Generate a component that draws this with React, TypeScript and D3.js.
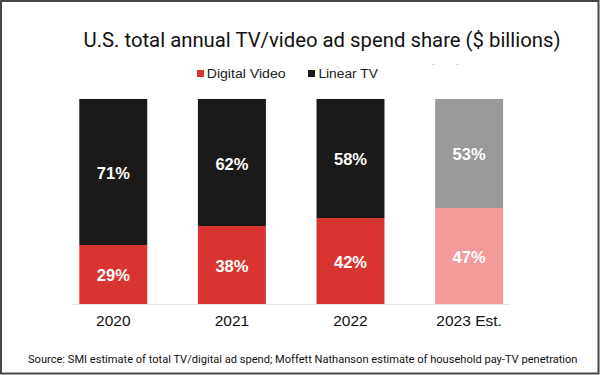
import React from "react";
import * as d3 from "d3";

const years = ["2020", "2021", "2022", "2023 Est."];
const digitalVideo = [29, 38, 42, 47];
const linearTV = [71, 62, 58, 53];
const seriesNames = ["Digital Video", "Linear TV"];
const title = "U.S. total annual TV/video ad spend share ($ billions)";
const source =
  "Source: SMI estimate of total TV/digital ad spend; Moffett Nathanson estimate of household pay-TV penetration";

const W = 600;
const H = 375;

export default function App() {
  const x = d3.scaleBand<string>().domain(years).range([20, 562.4]).paddingInner(0.427).paddingOuter(0.5);
  const y = d3.scaleLinear().domain([0, 100]).range([304, 99]);

  const digitalColor = (i: number) => (i === 3 ? "#f39b9b" : "#d93530");
  const linearColor = (i: number) => (i === 3 ? "#999999" : "#1c1a18");

  const sans = "'Liberation Sans', Arial, sans-serif";
  const bw = x.bandwidth();
  const first = x(years[0])!;
  const last = x(years[years.length - 1])! + bw;

  return (
    <svg width={W} height={H} style={{ position: "absolute", left: 0, top: 0, background: "#fff" }}>
      <rect x={0} y={0} width={W} height={H} fill="#fff" />
      <text
        x={83.5}
        y={46.7}
        fontFamily="Roboto, sans-serif"
        fontSize={20.5}
        fill="#111"
        textLength={477}
        lengthAdjust="spacingAndGlyphs"
      >
        {title}
      </text>
      {/* faint artifacts */}
      <circle cx={338} cy={67} r={0.8} fill="#bbb" />
      <circle cx={433.5} cy={64.5} r={0.8} fill="#bbb" />
      <circle cx={457.5} cy={64.5} r={0.8} fill="#bbb" />
      {/* legend */}
      <rect x={197} y={70} width={7} height={7} fill="#d93530" />
      <text x={206.7} y={77.5} fontFamily={sans} fontSize={13} fill="#222" textLength={79} lengthAdjust="spacingAndGlyphs">
        {seriesNames[0]}
      </text>
      <rect x={308} y={70} width={7} height={7} fill="#1c1a18" />
      <text x={318.4} y={77.5} fontFamily={sans} fontSize={13} fill="#222" textLength={59.5} lengthAdjust="spacingAndGlyphs">
        {seriesNames[1]}
      </text>
      {/* baseline */}
      <line x1={first - 6.6} x2={last + 6.6} y1={y(0) + 0.5} y2={y(0) + 0.5} stroke="#e3e3e3" strokeWidth={1} />
      {years.map((yr, i) => {
        const bx = x(yr)!;
        const d = digitalVideo[i];
        const l = linearTV[i];
        return (
          <g key={yr}>
            <rect
              x={bx}
              y={Math.round(y(d))}
              width={bw}
              height={y(0) - Math.round(y(d))}
              fill={digitalColor(i)}
            />
            <rect
              x={bx}
              y={y(d + l)}
              width={bw}
              height={Math.round(y(d)) - y(d + l)}
              fill={linearColor(i)}
            />
            <text
              x={bx + bw / 2}
              y={(y(0) + y(d)) / 2 + 7}
              textAnchor="middle"
              fontFamily={sans}
              fontWeight="bold"
              fontSize={16.5}
              fill="#fff"
            >
              {d}%
            </text>
            <text
              x={bx + bw / 2}
              y={(y(d) + y(d + l)) / 2 + 7}
              textAnchor="middle"
              fontFamily={sans}
              fontWeight="bold"
              fontSize={16.5}
              fill="#fff"
            >
              {l}%
            </text>
            <text x={bx + bw / 2} y={326} textAnchor="middle" fontFamily={sans} fontSize={15.5} fill="#111">
              {yr}
            </text>
          </g>
        );
      })}
      <text
        x={28}
        y={362.7}
        fontFamily="Roboto, sans-serif"
        fontSize={11}
        fill="#111"
        textLength={549.5}
        lengthAdjust="spacingAndGlyphs"
      >
        {source}
      </text>
      <rect x={1} y={1} width={597.5} height={372.5} fill="none" stroke="#474747" strokeWidth={2} />
    </svg>
  );
}
